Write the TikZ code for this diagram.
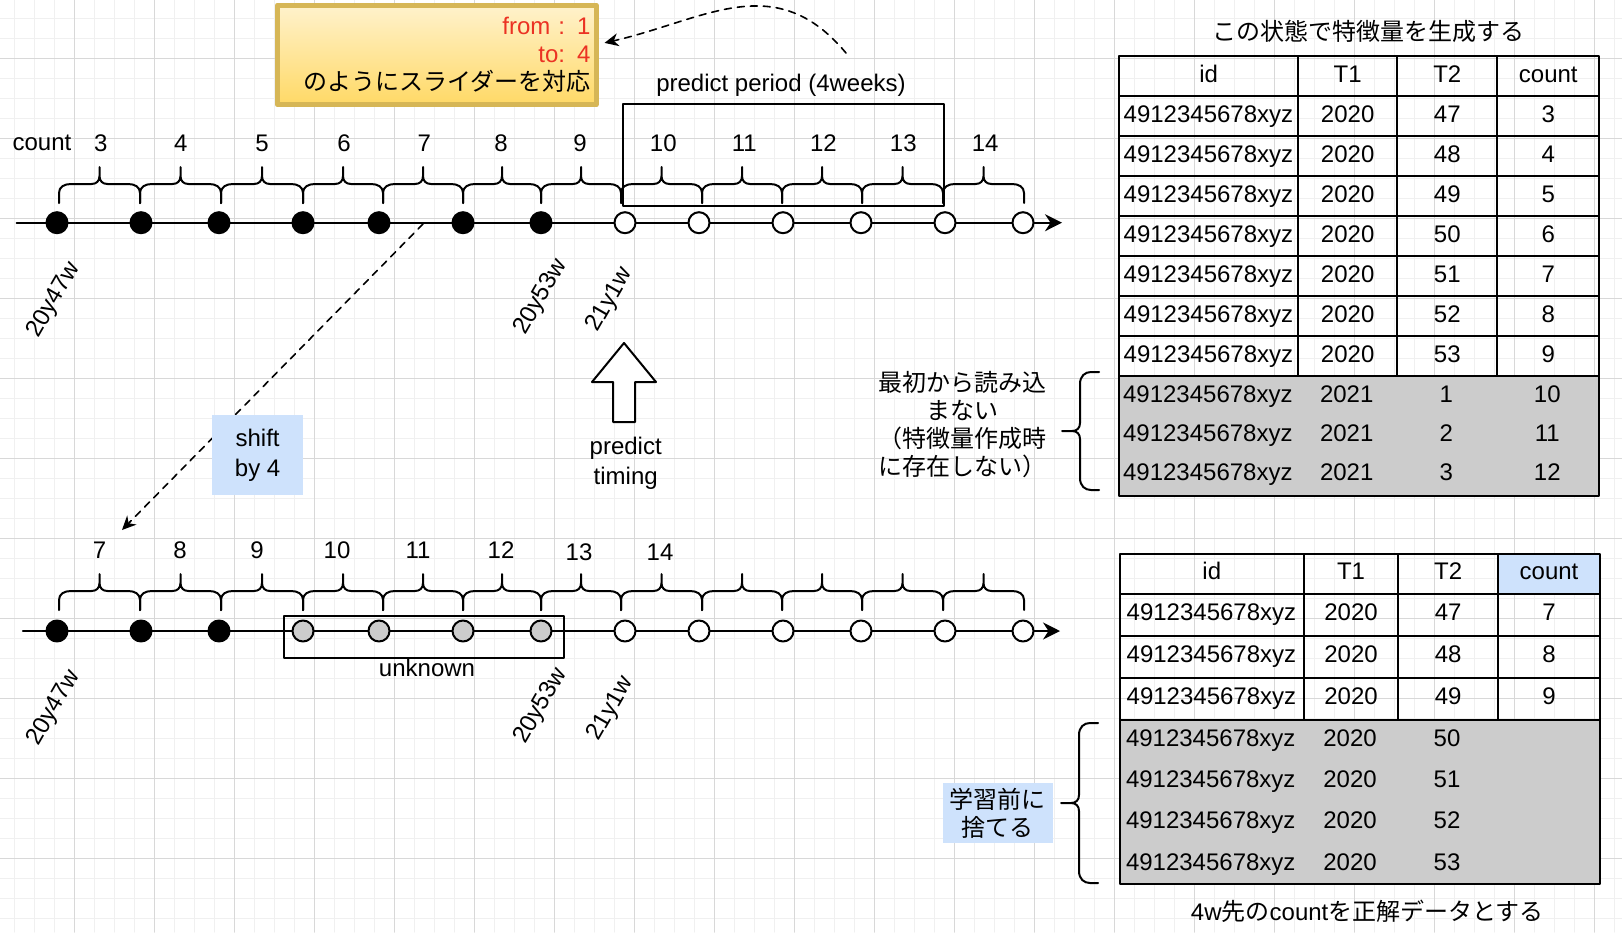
\documentclass[tikz,border=0pt]{standalone}
\usepackage{fontspec}
\setmainfont{Liberation Sans}
\newfontfamily\jp{Noto Sans CJK JP}
\usetikzlibrary{arrows.meta}
\definecolor{gridmaj}{RGB}{216,216,216}
\definecolor{gridmin}{RGB}{240,240,240}
\definecolor{notefill}{RGB}{206,226,252}
\definecolor{cellgray}{RGB}{204,204,204}
\definecolor{sliderred}{RGB}{235,50,35}
\definecolor{sliderline}{RGB}{214,182,86}
\definecolor{slidertop}{RGB}{255,242,204}
\definecolor{sliderbot}{RGB}{255,217,102}
\tikzset{
  dotfull/.style={circle, draw, line width=1pt, fill=black, minimum size=10.5pt, inner sep=0pt},
  dotopen/.style={dotfull, fill=white},
  dotgray/.style={dotfull, fill=cellgray},
  brc/.style={line width=1pt},
  datel/.style={rotate=60},
  tcell/.style={draw, line width=1pt, anchor=north west, inner sep=0pt, text height=8.6pt, text depth=2.5pt},
  idcell/.style={tcell, align=left, inner xsep=2.2pt},
  ctext/.style={text height=8.6pt, text depth=2.5pt, inner sep=0pt},
  note/.style={fill=notefill, align=center, inner sep=0pt},
  jpfont/.style={font=\fontsize{12}{14}\selectfont\jp},
  dasharr/.style={->, line width=0.8pt, dash pattern=on 3.5pt off 3pt, >={Stealth[length=7pt,width=6.5pt]}}
}
% curly brace over an interval, ends at the bottom
\newcommand{\hbrace}[3]{%
  \pgfmathsetmacro\bmid{(#1+#2)/2}
  \draw[brc] (#1,#3) -- (#1,#3-10) .. controls (#1,#3-16) and (#1+5,#3-19) .. (#1+12,#3-19)
    -- (\bmid-8,#3-19) .. controls (\bmid-3,#3-19) and (\bmid,#3-22) .. (\bmid,#3-27) -- (\bmid,#3-36)
    (\bmid,#3-27) .. controls (\bmid,#3-22) and (\bmid+3,#3-19) .. (\bmid+8,#3-19)
    -- (#2-12,#3-19) .. controls (#2-5,#3-19) and (#2,#3-16) .. (#2,#3-10) -- (#2,#3);
}
% curly brace opening to the right, tip on the left
\newcommand{\vbrace}[3]{%
  \pgfmathsetmacro\bmid{(#2+#3)/2}
  \draw[brc] (#1,#2) -- (#1-8,#2) .. controls (#1-14,#2) and (#1-19,#2+4) .. (#1-19,#2+12)
    -- (#1-19,\bmid-8) .. controls (#1-19,\bmid-3) and (#1-22,\bmid) .. (#1-27,\bmid) -- (#1-37,\bmid)
    (#1-27,\bmid) .. controls (#1-22,\bmid) and (#1-19,\bmid+3) .. (#1-19,\bmid+8)
    -- (#1-19,#3-12) .. controls (#1-19,#3-4) and (#1-14,#3) .. (#1-8,#3) -- (#1,#3);
}
\begin{document}
\begin{tikzpicture}[x=0.5pt, y=-0.5pt, >={Stealth[length=8.5pt,width=8.5pt]}, font=\fontsize{12}{14}\selectfont, line join=round, line cap=round]
  \useasboundingbox (0,0) rectangle (1622,932);
  \fill[white] (0,0) rectangle (1622,932);
  % background grid
  \foreach \gx in {14.5,34.5,...,1614.5} \draw[gridmin, line width=0.5pt] (\gx,0) -- (\gx,932);
  \foreach \gy in {18.3,38.3,...,918.3} \draw[gridmin, line width=0.5pt] (0,\gy) -- (1622,\gy);
  \foreach \gx in {74.5,154.5,...,1594.5} \draw[gridmaj, line width=0.5pt] (\gx,0) -- (\gx,932);
  \foreach \gy in {58.3,138.3,...,858.3} \draw[gridmaj, line width=0.5pt] (0,\gy) -- (1622,\gy);

  % slider note
  \node[draw=sliderline, line width=2.5pt, top color=slidertop, bottom color=sliderbot, minimum height=49.9pt,
        text width=153.7pt, inner xsep=2.8pt, align=right] (slider) at (436.7,54.9)
        {\textcolor{sliderred}{from : 1}\\\textcolor{sliderred}{to: 4}\\{\jp のようにスライダーを対応}};
  \coordinate (curvestart) at (846,53);
  \draw[dasharr] (curvestart) .. controls (775,-32) and (705,20) .. ([xshift=3pt,yshift=6pt]slider.east);

  % upper time line
  \coordinate (tstart) at (16.6,222.7);
  \coordinate (tend) at (1062,222.7);
  \draw[->, line width=1pt] (tstart) -- (tend);
  \node[draw, line width=1pt, minimum width=160.65pt, minimum height=50.7pt, anchor=north west, inner sep=0pt] (period) at (621.6,103.3) {};
  \node (periodlbl) at (781,85) {predict period (4weeks)};
  \node (countlbl) at (42,142.7) {count};
  \foreach \xa/\xb in {59/140,140/221,221/303,303/383,383/463,463/541,541/621,621/702,702/782,782/862,862/943,943/1024}
    {\hbrace{\xa}{\xb}{203}}
  \foreach \lx/\lab in {100.8/3,180.7/4,262/5,344/6,424.3/7,501/8,580/9,663.3/10,744.2/11,823.4/12,903.3/13,985.2/14}
    \node (tc\lab) at (\lx,143) {\lab};
  \foreach \x/\s [count=\i] in {57/dotfull,141/dotfull,219/dotfull,303/dotfull,379/dotfull,463/dotfull,541/dotfull,
                               625/dotopen,699/dotopen,783/dotopen,861/dotopen,945/dotopen,1023/dotopen}
    \node[\s] (top\i) at (\x,222.7) {};
  \node[datel] (td1) at (54,300) {20y47w};
  \node[datel] (td2) at (541,297) {20y53w};
  \node[datel] (td3) at (610,300) {21y1w};

  % shift arrow
  \coordinate (shiftfrom) at (423,224);
  \coordinate (shiftto) at (122,530);
  \draw[dasharr] (shiftfrom) -- (shiftto);
  \node[note, minimum width=45.3pt, minimum height=39.7pt, font=\fontsize{12}{15}\selectfont] (shift) at (257.6,455) {shift\\by 4};

  % predict timing
  \draw[line width=1pt, fill=white] (624,343) -- (656,382) -- (635,382) -- (635,422) -- (613,422) -- (613,382) -- (592,382) -- cycle;
  \node[align=center, font=\fontsize{12}{15}\selectfont] (timing) at (625.7,463.3) {predict\\timing};

  % lower time line
  \coordinate (bstart) at (22.9,631);
  \coordinate (bend) at (1060,631);
  \draw[->, line width=1pt] (bstart) -- (bend);
  \foreach \xa/\xb in {59/140,140/221,221/303,303/383,383/463,463/541,541/621,621/702,702/782,782/862,862/943,943/1024}
    {\hbrace{\xa}{\xb}{610}}
  \foreach \lx/\ly/\lab in {99.6/550/7,180/550/8,257/550/9,337/550/10,418/550/11,501/550/12,579/552.5/13,660/552.5/14}
    \node (bc\lab) at (\lx,\ly) {\lab};
  \node[draw, line width=1pt, minimum width=140pt, minimum height=20.85pt, anchor=north west, inner sep=0pt] (unknown) at (282.7,615) {};
  \node (unknownlbl) at (427,668) {unknown};
  \foreach \x/\s [count=\i] in {57/dotfull,141/dotfull,219/dotfull,303/dotgray,379/dotgray,463/dotgray,541/dotgray,
                               625/dotopen,699/dotopen,783/dotopen,861/dotopen,945/dotopen,1023/dotopen}
    \node[\s] (bot\i) at (\x,631) {};
  \node[datel] (bd1) at (54,708) {20y47w};
  \node[datel] (bd2) at (541,706) {20y53w};
  \node[datel] (bd3) at (611,709) {21y1w};

  % feature table
  \node[jpfont] (ftitle) at (1368,31.7) {この状態で特徴量を生成する};
  \foreach \hd/\hx/\hw [count=\c] in {id/1118.3/89.35,T1/1297/49.65,T2/1396.3/50,count/1496.3/51}
    \node[tcell, minimum width=\hw pt, minimum height=20pt] (fh\c) at (\hx,55) {\hd};
  \foreach \wk/\cn [count=\k] in {47/3,48/4,49/5,50/6,51/7,52/8,53/9} {
    \pgfmathsetmacro\rt{55+40*\k}
    \node[idcell, minimum width=89.35pt, text width=84.95pt, minimum height=20pt] (f\k-a) at (1118.3,\rt) {4912345678xyz};
    \node[tcell, minimum width=49.65pt, minimum height=20pt] (f\k-b) at (1297,\rt) {2020};
    \node[tcell, minimum width=50pt, minimum height=20pt] (f\k-c) at (1396.3,\rt) {\wk};
    \node[tcell, minimum width=51pt, minimum height=20pt] (f\k-d) at (1496.3,\rt) {\cn};
  }
  \node[draw, line width=1pt, fill=cellgray, anchor=north west, minimum width=240pt, minimum height=60pt, inner sep=0pt] (fgray) at (1118.3,375) {};
  \foreach \wk/\cn [count=\k] in {1/10,2/11,3/12} {
    \pgfmathsetmacro\ry{357+39*\k}
    \node[ctext, anchor=west] (g\k-a) at (1122.7,\ry) {4912345678xyz};
    \node[ctext] (g\k-b) at (1346.7,\ry) {2021};
    \node[ctext] (g\k-c) at (1446.3,\ry) {\wk};
    \node[ctext] (g\k-d) at (1547.3,\ry) {\cn};
  }
  \vbrace{1099}{372}{490}
  \node[jpfont, align=center] (noload) at (962,425) {最初から読み込\\まない\\（特徴量作成時\\に存在しない）};

  % training table
  \foreach \hd/\hx/\hw [count=\c] in {id/1118.7/92.1,T1/1302.9/47.15,T2/1397.2/49.95}
    \node[tcell, minimum width=\hw pt, minimum height=20pt] (lh\c) at (\hx,552.7) {\hd};
  \node[tcell, fill=notefill, minimum width=50.9pt, minimum height=20pt] (lh4) at (1497.1,552.7) {count};
  \foreach \wk/\cn [count=\k] in {47/7,48/8,49/9} {
    \pgfmathsetmacro\rt{550.7+42*\k}
    \node[idcell, inner xsep=3.5pt, minimum width=92.1pt, text width=85.1pt, minimum height=21pt] (l\k-a) at (1118.7,\rt) {4912345678xyz};
    \node[tcell, minimum width=47.15pt, minimum height=21pt] (l\k-b) at (1302.9,\rt) {2020};
    \node[tcell, minimum width=49.95pt, minimum height=21pt] (l\k-c) at (1397.2,\rt) {\wk};
    \node[tcell, minimum width=50.9pt, minimum height=21pt] (l\k-d) at (1497.1,\rt) {\cn};
  }
  \node[draw, line width=1pt, fill=cellgray, anchor=north west, minimum width=240.1pt, minimum height=82.3pt, inner sep=0pt] (lgray) at (1118.7,718.7) {};
  \foreach \wk [count=\k] in {50,51,52,53} {
    \pgfmathsetmacro\ry{699.5+41.1*\k}
    \node[ctext, anchor=west] (m\k-a) at (1125.6,\ry) {4912345678xyz};
    \node[ctext] (m\k-b) at (1350,\ry) {2020};
    \node[ctext] (m\k-c) at (1447,\ry) {\wk};
  }
  \vbrace{1098}{723}{883}
  \node[note, jpfont, minimum width=55pt, minimum height=30pt] (discard) at (997.9,813.3) {学習前に\\捨てる};
  \node (lcaption) at (1367.3,911.7) {4w{\jp 先の}count{\jp を正解データとする}};
\end{tikzpicture}
\end{document}
